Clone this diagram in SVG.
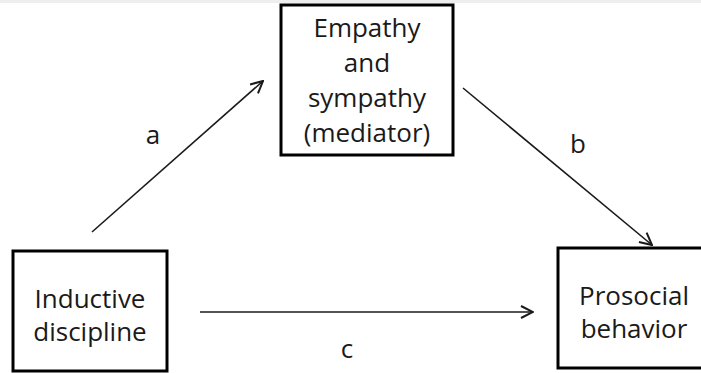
<svg xmlns="http://www.w3.org/2000/svg" width="701" height="373" viewBox="0 0 701 373">
  <style>
    .box { fill: #ffffff; stroke: #000000; stroke-width: 3; }
    .lbl { font-family: "Open Sans", "Noto Sans", sans-serif; font-size: 26px; fill: #1a1a1a; text-anchor: middle; }
    .edge { stroke: #1a1a1a; stroke-width: 1.6; fill: none; marker-end: url(#arrow); }
  </style>
  <defs>
    <marker id="arrow" viewBox="0 0 14 14" refX="13" refY="7" markerWidth="14" markerHeight="14" markerUnits="userSpaceOnUse" orient="auto">
      <path d="M1,1 L13,7 L1,13" fill="none" stroke="#1a1a1a" stroke-width="2"/>
    </marker>
  </defs>
  <rect x="0" y="0" width="701" height="373" fill="#ffffff"/>
  <rect x="0" y="0" width="701" height="3" fill="#eeeeee"/>

  <g id="connectors">
    <line class="edge" x1="92" y1="232" x2="263" y2="81"/>
    <line class="edge" x1="463" y1="88" x2="652" y2="245"/>
    <line class="edge" x1="200" y1="312" x2="533" y2="312"/>
    <text class="lbl" x="153" y="144">a</text>
    <text class="lbl" x="578" y="153">b</text>
    <text class="lbl" x="347" y="358">c</text>
  </g>

  <g id="node-empathy">
    <rect class="box" x="281" y="5" width="172" height="150"/>
    <text class="lbl" x="367" y="37">Empathy</text>
    <text class="lbl" x="367" y="72">and</text>
    <text class="lbl" x="367" y="107">sympathy</text>
    <text class="lbl" x="367" y="142">(mediator)</text>
  </g>

  <g id="node-inductive">
    <rect class="box" x="13" y="251" width="154" height="120"/>
    <text class="lbl" x="90" y="308">Inductive</text>
    <text class="lbl" x="90" y="341">discipline</text>
  </g>

  <g id="node-prosocial">
    <rect class="box" x="558" y="248" width="152" height="120"/>
    <text class="lbl" x="634" y="305">Prosocial</text>
    <text class="lbl" x="634" y="338">behavior</text>
  </g>
</svg>
